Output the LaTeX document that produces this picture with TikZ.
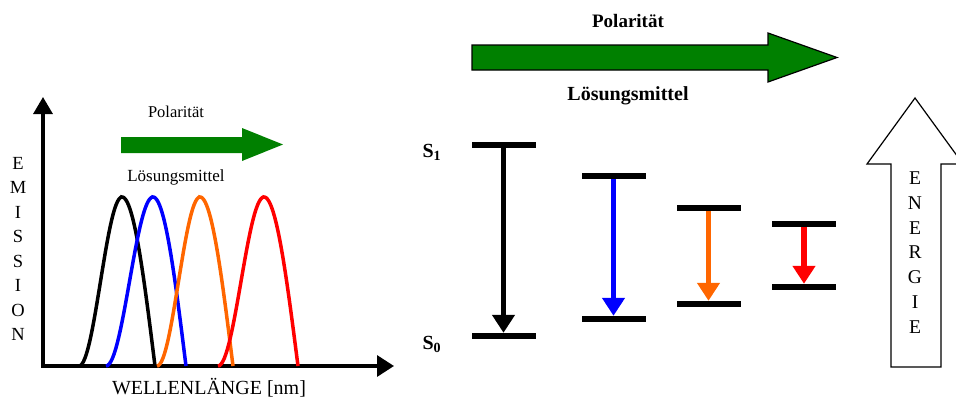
\documentclass[tikz,border=0pt]{standalone}
\usepackage{fontspec}
\setmainfont{Liberation Serif}
\usetikzlibrary{arrows.meta}

\definecolor{arrowgreen}{RGB}{0,128,0}
\definecolor{emorange}{RGB}{255,102,0}

\newcommand{\bellcurve}[4]{%
\draw[bell,#1] plot[domain=#2:#3,samples=30] (\x,{366-169*(1-cos(180*(\x-#2)/(#3-#2)))/2})
  -- plot[domain=#3:#4,samples=30] (\x,{366-169*cos(90*(\x-#3)/(#4-#3))});}

\begin{document}
\begin{tikzpicture}[x=1pt,y=-1pt,
  axis/.style={line width=3.3pt,{Triangle[width=19pt,length=17pt]}-{Triangle[width=21pt,length=17pt]}},
  bell/.style={line width=3.5pt},
  level/.style={rectangle,fill=black,minimum width=64pt,minimum height=6pt,inner sep=0pt},
  trans/.style={line width=4.5pt,-{Triangle[width=22pt,length=18pt]}},
  bigtext/.style={font=\fontsize{20}{24}\selectfont\bfseries,anchor=base},
  smalltext/.style={font=\fontsize{16.5}{20}\selectfont,anchor=base}]
\useasboundingbox (0,0) rectangle (956,399);
\clip (0,0) rectangle (956,399);

\coordinate (ytop) at (43,97);
\coordinate (o) at (43,366);
\coordinate (xend) at (394,366);
\draw[axis] (ytop) -- (o) -- (xend);

\node[font=\fontsize{18.5}{24.5}\selectfont, align=center, inner sep=0pt] (emission) at (18,249)
{E\\M\\I\\S\\S\\I\\O\\N};
\node[font=\fontsize{20}{24}\selectfont, anchor=base] (wavelength) at (209,394) {WELLENLÄNGE [nm]};

\node[smalltext] (pol1) at (176,117) {Polarität};
\node[smalltext, font=\fontsize{17}{20}\selectfont] (sol1) at (176,181) {Lösungsmittel};
\fill[arrowgreen] (121,137) -- (242,137) -- (242,128) -- (283,144.5) -- (242,161) -- (242,153) -- (121,153) -- cycle;

\bellcurve{black}{79}{122}{155}
\bellcurve{blue}{106}{153}{186}
\bellcurve{emorange}{157}{200}{233}
\bellcurve{red}{218}{264}{298}

\node[bigtext, font=\fontsize{19}{24}\selectfont\bfseries] (pol2) at (628,27) {Polarität};
\node[bigtext] (sol2) at (628,100) {Lösungsmittel};
\filldraw[fill=arrowgreen, draw=black, line width=1.2pt]
  (472,45) -- (768,45) -- (768,33) -- (837,57.5) -- (768,82) -- (768,70) -- (472,70) -- cycle;

\node[font=\fontsize{20}{24}\selectfont\bfseries, anchor=base west] (s1) at (419,157) {S\textsubscript{1}};
\node[font=\fontsize{20}{24}\selectfont\bfseries, anchor=base west] (s0) at (419,349) {S\textsubscript{0}};

\node[level] (up1) at (503.5,145) {};
\node[level] (lo1) at (503.5,336) {};
\node[level] (up2) at (613.5,176) {};
\node[level] (lo2) at (613.5,319) {};
\node[level] (up3) at (708.5,208) {};
\node[level] (lo3) at (708.5,304) {};
\node[level] (up4) at (804,224) {};
\node[level] (lo4) at (804,287) {};

\draw[trans, black] (up1) -- (lo1);
\draw[trans, blue] (up2) -- (lo2);
\draw[trans, emorange] (up3) -- (lo3);
\draw[trans, red, line width=6pt] (up4) -- (lo4);

\draw[line width=1.2pt] (891,367) -- (891,164) -- (867,164) -- (915,98) -- (963,164) -- (941,164) -- (941,367) -- cycle;
\node[font=\fontsize{19.5}{24.8}\selectfont, align=center, inner sep=0pt] (energy) at (915,252.5)
{E\\N\\E\\R\\G\\I\\E};
\end{tikzpicture}
\end{document}
